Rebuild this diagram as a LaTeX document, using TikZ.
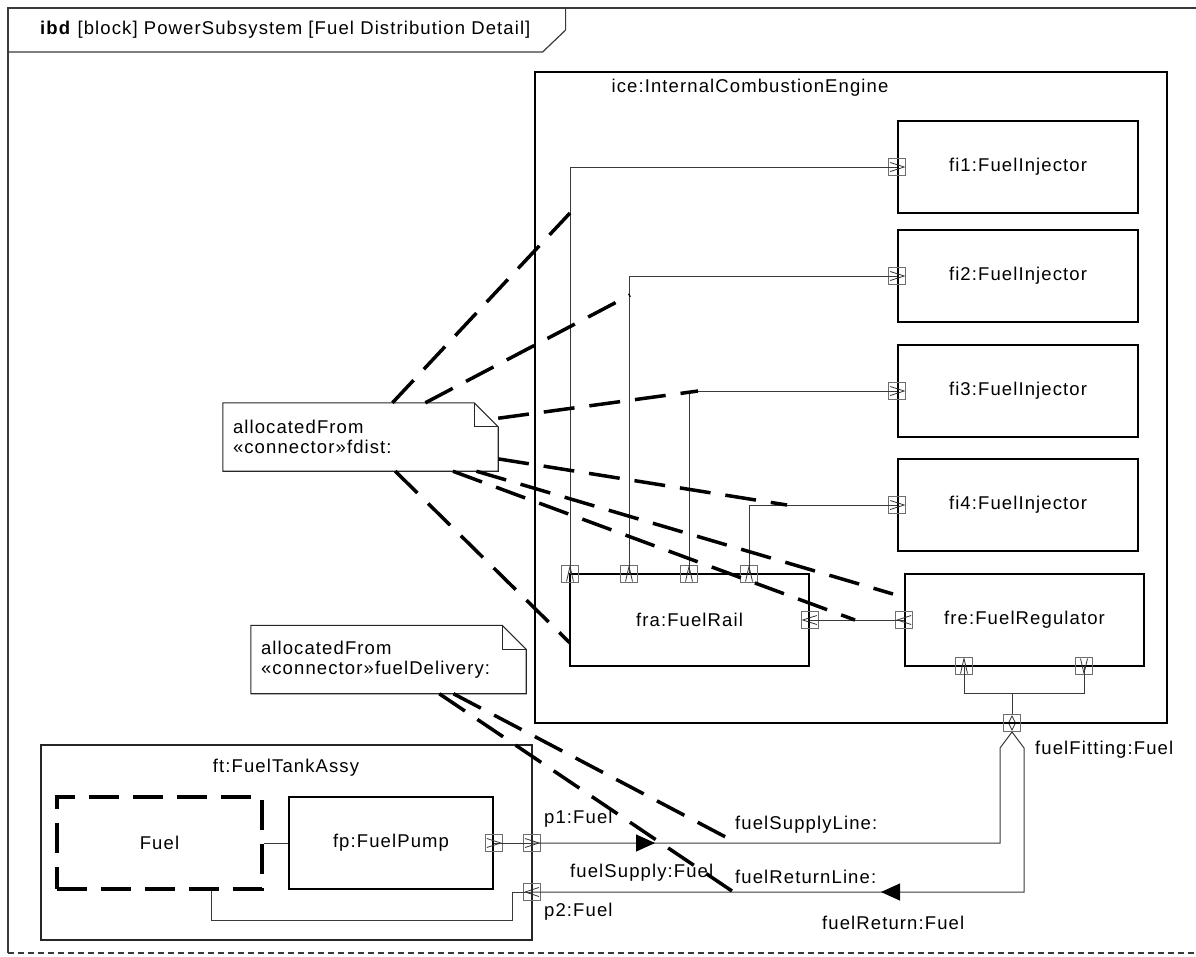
\documentclass[tikz,border=0pt]{standalone}
\usepackage{fontspec}
\setmainfont{Liberation Sans}[LetterSpace=6]
\usetikzlibrary{arrows.meta,calc,decorations.markings}
\definecolor{connc}{HTML}{3A3A3A}
\definecolor{portc}{HTML}{6E6E6E}
\definecolor{framec}{HTML}{3A3A3A}
\tikzset{
  blk/.style={draw=black, line width=1.6pt, minimum width=240pt, minimum height=92pt, inner sep=0pt},
  cont/.style={draw=black, line width=1.5pt, inner sep=0pt},
  dashbox/.style={line width=4pt, dash pattern=on 30pt off 14pt},
  port/.style={draw=portc, line width=1pt, minimum size=17pt, inner sep=0pt},
  chev/.style={draw=black!80, line width=0.8pt},
  conn/.style={draw=connc, line width=1pt},
  frame/.style={draw=framec, line width=1.2pt},
  lbl/.style={inner sep=0pt, anchor=west},
  % comment notes
  note/.style={minimum width=275pt, minimum height=68pt, text width=255pt,
    align=left, inner xsep=10pt, inner ysep=0pt},
  noteline/.style={draw=black!85, line width=1.1pt},
  alloc/.style={draw=black, line width=3.5pt, dash pattern=on 31pt off 15pt},
  % item flow marks
  flowR/.style={postaction={decorate}, decoration={markings,
    mark=at position #1 with {\arrow[black]{Triangle[length=19pt,width=17pt]}}}},
  % port glyphs
  chevR/.pic={\draw[chev] (-7,-4.5) -- (7,0) -- (-7,4.5);},
  chevL/.pic={\draw[chev] (7,-4.5) -- (-7,0) -- (7,4.5);},
  chevU/.pic={\draw[chev] (-3.5,7.5) -- (0,-7.5) -- (3.5,7.5);},
  chevD/.pic={\draw[chev] (-3.5,-7.5) -- (0,7.5) -- (3.5,-7.5);},
  chevUD/.pic={\draw[chev] (-3,-1) -- (0,-7) -- (3,-1); \draw[chev] (-3,1) -- (0,7) -- (3,1);},
}
\begin{document}
\begin{tikzpicture}[x=1pt,y=-1pt,font=\fontsize{18.5}{20}\selectfont]
  \useasboundingbox (0,0) rectangle (1196,956);
  % diagram frame
  \draw[frame] (1196,8) -- (8,8) -- (8,953);
  \draw[frame, dash pattern=on 6pt off 4pt] (8,953) -- (1196,953);
  \node[inner sep=0pt, anchor=west] (hdr) at (40,30)
      {\textbf{ibd} [block] PowerSubsystem [Fuel Distribution Detail]};
  \draw[frame] (8,52) -- ($(hdr.east)+(12,22)$) -- ($(hdr.east)+(35,0)$) -- ++(0,-22);

  % engine
  \node[cont, minimum width=632pt, minimum height=651pt] (ice) at (851,397.5) {};
  \node (iceT) at (750,88) {ice:InternalCombustionEngine};
  \foreach \n/\y in {1/167,2/276,3/391,4/505} {
    \node[blk] (fi\n) at (1018,\y) {fi\n:FuelInjector};
    \node[port] (pfi\n) at (fi\n.west) {};
    \pic at (pfi\n) {chevR};
  }
  \node[blk, minimum width=239pt] (fra) at (689.5,620) {fra:FuelRail};
  \foreach \k/\x in {1/570,2/629,3/689,4/749} {
    \node[port] (pra\k) at (\x,574) {};
    \pic at (pra\k) {chevU};
    \draw[conn] (pra\k.center) |- (pfi\k.center);
  }
  \node[port] (praR) at (fra.east) {};
  \pic at (praR) {chevL};
  \node[blk, minimum width=239pt] (fre) at (1024.5,620) {fre:FuelRegulator};
  \node[port] (preL) at (fre.west) {};
  \pic at (preL) {chevL};
  \node[port] (preB1) at (964,666) {};
  \pic at (preB1) {chevU};
  \node[port] (preB2) at (1084,666) {};
  \pic at (preB2) {chevD};
  \draw[conn] (praR.center) -- (preL.center);
  \node[port] (pfit) at (1012,723) {};
  \pic at (pfit) {chevUD};
  \coordinate (jn) at (1012,693);
  \draw[conn] (preB1.center) |- (jn) -| (preB2.center);
  \draw[conn] (jn) -- (pfit.north);

  % tank assembly
  \node[cont, line width=1.2pt, draw=black!85, minimum width=491pt, minimum height=195pt] (ft) at (286.5,842.5) {};
  \node (ftT) at (286,768) {ft:FuelTankAssy};
  \node[blk, dashbox, minimum width=205pt] (fuel) at (159.5,843) {Fuel};
  \node[blk, minimum width=204pt] (fp) at (391,843) {fp:FuelPump};
  \draw[conn] (fuel) -- (fp);
  \node[port] (pfp) at (fp.east) {};
  \pic at (pfp) {chevR};
  \node[port] (pp1) at (532,843) {};
  \pic at (pp1) {chevR};
  \node[port] (pp2) at (532,892) {};
  \pic at (pp2) {chevL};
  \draw[conn] (pfp.center) -- (pp1.center);
  \coordinate (rA) at (512,920);
  \coordinate (rB) at (211,920);
  \draw[conn] (pp2.center) -| (rA) -- (rB) -- (rB |- fuel.south);

  % supply and return lines
  \coordinate (sA) at (1000,843);
  \coordinate (sB) at (1000,748);
  \coordinate (rD) at (1024,748);
  \coordinate (rC) at (1024,892);
  \draw[conn, flowR=123pt] (pp1.center) -- (sA) -- (sB) -- (pfit.south);
  \draw[conn, flowR=307pt] (pfit.south) -- (rD) -- (rC) -- (pp2.center);
  \node[lbl] (lp1) at (544,819) {p1:Fuel};
  \node[lbl] (lsl) at (735,825) {fuelSupplyLine:};
  \node[lbl] (lsf) at (570,873) {fuelSupply:Fuel};
  \node[lbl] (lrl) at (735,877) {fuelReturnLine:};
  \node[lbl] (lp2) at (544,912) {p2:Fuel};
  \node[lbl] (lrf) at (822,923) {fuelReturn:Fuel};
  \node[lbl] (lff) at (1035,750) {fuelFitting:Fuel};

  % allocation notes
  \node[note] (nA) at (360.5,437) {allocatedFrom\\«connector»fdist:};
  \node[note] (nB) at (388.5,659.5) {allocatedFrom\\«connector»fuelDelivery:};
  \foreach \nt in {nA,nB} {
    \draw[noteline] (\nt.north west) -- ($(\nt.north east)+(-24,0)$) -- ($(\nt.north east)+(0,24)$)
      -- (\nt.south east) -- (\nt.south west) -- cycle;
    \draw[noteline] ($(\nt.north east)+(-24,0)$) |- ($(\nt.north east)+(0,24)$);
  }
  \coordinate (a1) at (570,213);
  \coordinate (a2) at (630,295);
  \coordinate (a3) at (698,391);
  \coordinate (a4) at (787,505);
  \coordinate (a5) at (893,594);
  \coordinate (a6) at (855,620);
  \coordinate (a7) at (570,643);
  \coordinate (b1) at (737,843);
  \coordinate (b2) at (732,891);
  \foreach \e in {a1,a2,a3,a4,a5,a6,a7} {\draw[alloc] (nA) -- (\e);}
  \foreach \e in {b1,b2} {\draw[alloc] (nB) -- (\e);}
\end{tikzpicture}
\end{document}
